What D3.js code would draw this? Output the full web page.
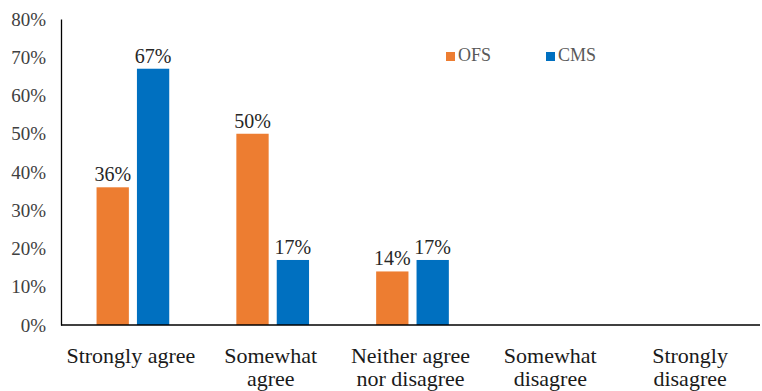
<!DOCTYPE html>
<html>
<head>
<meta charset="utf-8">
<script src="https://cdn.jsdelivr.net/npm/d3@7"></script>
<style>
  body { margin: 0; background: #fff; }
  text.serif { font-family: "Liberation Serif"; }
</style>
</head>
<body>
<div id="chart"></div>
<script>
// données
const categories = ["Strongly agree", "Somewhat agree", "Neither agree nor disagree", "Somewhat disagree", "Strongly disagree"];
const categoryLines = [["Strongly agree"], ["Somewhat", "agree"], ["Neither agree", "nor disagree"], ["Somewhat", "disagree"], ["Strongly", "disagree"]];
const seriesNames = ["OFS", "CMS"];
const ofsValues = [0.36, 0.50, 0.14, 0, 0];
const cmsValues = [0.67, 0.17, 0.17, 0, 0];
const yTicks = [0, 0.1, 0.2, 0.3, 0.4, 0.5, 0.6, 0.7, 0.8];

const colors = {OFS: "#ED7D31", CMS: "#0070C0"};
const width = 762, height = 391;
const plot = {left: 61, right: 760, top: 19, bottom: 325};

const svg = d3.select("#chart").append("svg")
    .attr("width", width)
    .attr("height", height);

const x0 = d3.scaleBand()
    .domain(categories)
    .range([plot.left + 2, plot.right + 2])
    .paddingInner(0.48)
    .paddingOuter(0.24);
const x1 = d3.scaleBand()
    .domain(seriesNames)
    .range([0, x0.bandwidth()])
    .paddingInner(0.2)
    .paddingOuter(0);
const y = d3.scaleLinear()
    .domain([0, 0.8])
    .range([plot.bottom, plot.top]);

const fmt = d3.format(".0%");

// axe Y : seulement la ligne et les libellés
const yAxis = svg.append("g")
    .attr("transform", "translate(" + plot.left + ",0)")
    .call(d3.axisLeft(y).tickValues(yTicks).tickFormat(fmt).tickSize(0).tickPadding(15));
yAxis.attr("font-family", null).attr("font-size", null);
yAxis.select(".domain").attr("stroke", "#000").attr("stroke-width", 1.3);
yAxis.selectAll("text")
    .attr("class", "serif")
    .attr("font-size", 19)
    .attr("fill", "#404040");

// lignes des barres
const rows = categories.map((c, i) => ({cat: c, values: [
    {key: "OFS", value: ofsValues[i]},
    {key: "CMS", value: cmsValues[i]}
]}));

const groups = svg.selectAll(".group").data(rows).enter()
    .append("g")
    .attr("class", "group")
    .attr("transform", d => "translate(" + x0(d.cat) + ",0)");

groups.selectAll("rect").data(d => d.values.filter(v => v.value > 0)).enter()
    .append("rect")
    .attr("x", d => x1(d.key))
    .attr("y", d => y(d.value))
    .attr("width", x1.bandwidth())
    .attr("height", d => y(0) - y(d.value))
    .attr("fill", d => colors[d.key]);

groups.selectAll("text").data(d => d.values.filter(v => v.value > 0)).enter()
    .append("text")
    .attr("class", "serif")
    .attr("x", d => x1(d.key) + x1.bandwidth() / 2)
    .attr("y", d => y(d.value) - 6)
    .attr("text-anchor", "middle")
    .attr("font-size", 20)
    .attr("fill", "#262626")
    .text(d => fmt(d.value));

// axe X
svg.append("line")
    .attr("x1", plot.left)
    .attr("x2", plot.right)
    .attr("y1", plot.bottom)
    .attr("y2", plot.bottom)
    .attr("stroke", "#000")
    .attr("stroke-width", 1.3);

const catLabels = svg.append("g").selectAll("text").data(categories).enter()
    .append("text")
    .attr("class", "serif")
    .attr("text-anchor", "middle")
    .attr("font-size", 22)
    .attr("fill", "#1a1a1a");
catLabels.selectAll("tspan").data((d, i) => categoryLines[i].map(l => ({line: l, cat: d}))).enter()
    .append("tspan")
    .attr("x", d => x0(d.cat) + x0.bandwidth() / 2 - 2)
    .attr("y", (d, j) => 363 + j * 23)
    .text(d => d.line);

// légende
const legend = svg.selectAll(".legend").data(seriesNames).enter()
    .append("g")
    .attr("class", "legend")
    .attr("transform", (d, i) => "translate(" + (446 + i * 100) + ",52)");
legend.append("rect")
    .attr("width", 9)
    .attr("height", 9)
    .attr("fill", d => colors[d]);
legend.append("text")
    .attr("class", "serif")
    .attr("x", 12)
    .attr("y", 8.5)
    .attr("font-size", 18)
    .attr("fill", "#595959")
    .text(d => d);
</script>
</body>
</html>
